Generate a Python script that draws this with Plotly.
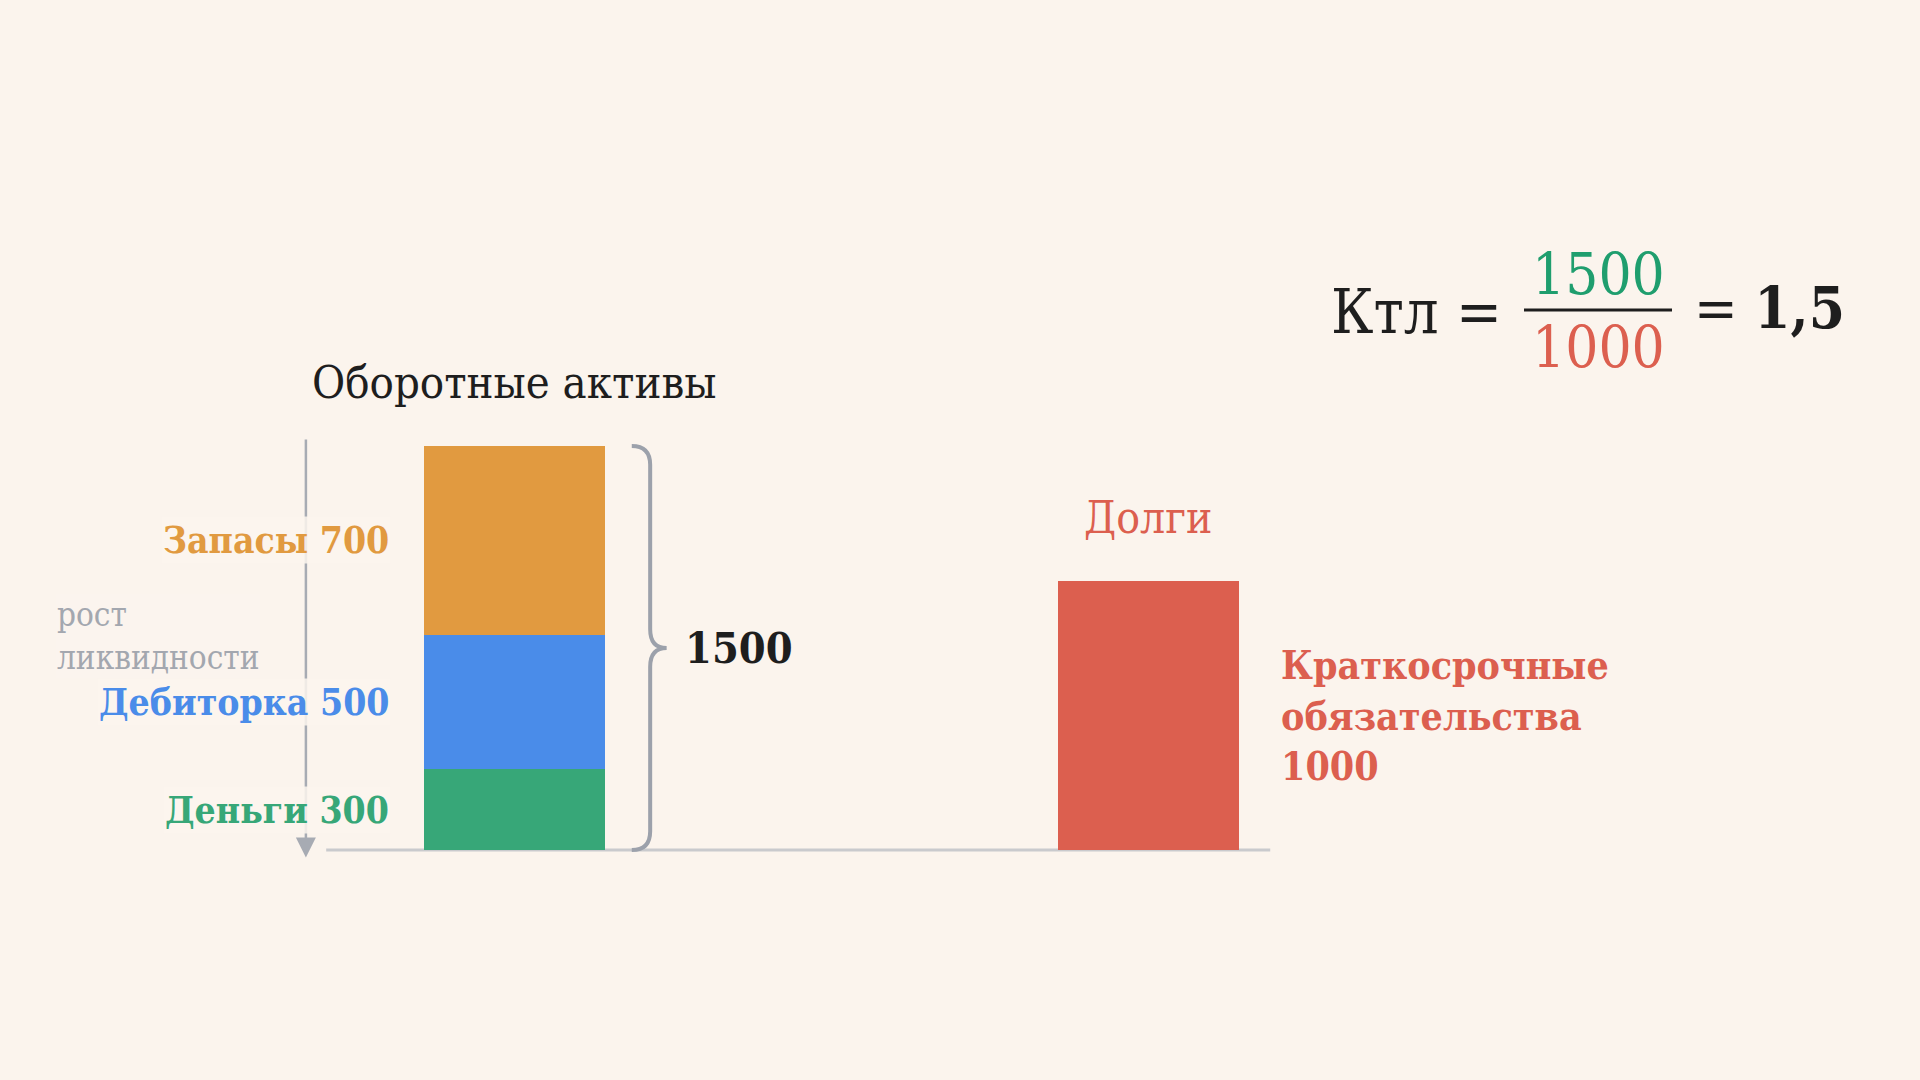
import plotly.graph_objects as go

# data
asset_names = ["Деньги", "Дебиторка", "Запасы"]
asset_values = [300, 500, 700]
asset_colors = ["#37A778", "#4A8CE9", "#E19A40"]
group_names = ["Оборотные активы", "Долги"]
debt_name = "Краткосрочные<br>обязательства"
debt_value = 1000
liquidity_note = "рост<br>ликвидности"

BG = "#FBF4ED"
GREY = "#9CA1AB"
DARK = "#1E1E1E"
RED = "#DC5F4F"
FONT = "DejaVu Serif Condensed, DejaVu Serif, serif"

total_assets = sum(asset_values)
ratio = total_assets / debt_value
bar_w = 0.287


def px(x, y):
    # pixel position -> paper coords (used only for the free-floating formula/note)
    return x / 1920, 1 - y / 1080


fig = go.Figure()

# stacked current assets
for name, val, col in zip(asset_names, asset_values, asset_colors):
    fig.add_trace(go.Bar(
        x=[0], y=[val], width=bar_w, marker_color=col,
        marker_line_width=0, name=name, hoverinfo="skip", showlegend=False
    ))

# short-term debt
fig.add_trace(go.Bar(
    x=[1], y=[debt_value], width=bar_w, marker_color=RED,
    marker_line_width=0, name="Долги", hoverinfo="skip", showlegend=False
))

# baseline
fig.add_shape(type="line", x0=-0.297, x1=1.192, y0=0, y1=0,
              line=dict(color="#C9CACD", width=3), layer="below")

# liquidity arrow (drawn before labels so their boxes cover it)
fig.add_annotation(x=-0.329, y=-28, ax=-0.329, ay=1530, axref="x", ayref="y",
                   text="", showarrow=True, arrowhead=2, arrowsize=1.6,
                   arrowwidth=2.5, arrowcolor="#A7ABB3")

nx, ny = px(55, 636)
fig.add_annotation(xref="paper", yref="paper", x=nx, y=ny,
                   text=liquidity_note, showarrow=False,
                   xanchor="left", yanchor="middle", align="left",
                   font=dict(family=FONT, size=33, color="#A3A7AF"),
                   bgcolor="rgba(251,244,237,0.8)")

# segment labels
base = 0
for name, val, col in zip(asset_names, asset_values, asset_colors):
    fig.add_annotation(x=-bar_w / 2, y=base + val / 2, xshift=-33,
                       text=f"<b>{name} {val}</b>", showarrow=False,
                       xanchor="right", yanchor="middle",
                       font=dict(family=FONT, size=37, color=col),
                       bgcolor="rgba(251,244,237,0.85)")
    base += val

# group titles
fig.add_annotation(x=0, y=total_assets, yshift=64, text=group_names[0], showarrow=False,
                   xanchor="center", yanchor="middle",
                   font=dict(family=FONT, size=45, color=DARK))
fig.add_annotation(x=1, y=debt_value, yshift=63, text=group_names[1], showarrow=False,
                   xanchor="center", yanchor="middle",
                   font=dict(family=FONT, size=44, color=RED))

# brace around assets
r = 70
bx0, bx1, bx2 = 0.185, 0.214, 0.240
mid = total_assets / 2
brace = (f"M {bx0},{total_assets} Q {bx1},{total_assets} {bx1},{total_assets - r} "
         f"L {bx1},{mid + r} Q {bx1},{mid} {bx2},{mid} "
         f"Q {bx1},{mid} {bx1},{mid - r} "
         f"L {bx1},{r} Q {bx1},0 {bx0},0")
fig.add_shape(type="path", path=brace, line=dict(color=GREY, width=4))
fig.add_annotation(x=bx2, y=mid, xshift=16, text=f"<b>{total_assets}</b>",
                   showarrow=False, xanchor="left", yanchor="middle",
                   font=dict(family=FONT, size=43, color=DARK))

# debt label
fig.add_annotation(x=1 + bar_w / 2, y=debt_value / 2, xshift=40,
                   text=f"<b>{debt_name}<br>{debt_value}</b>", showarrow=False,
                   xanchor="left", yanchor="middle", align="left",
                   font=dict(family=FONT, size=39, color=RED))

# formula
kx, ky = px(1504, 311)
fig.add_annotation(xref="paper", yref="paper", x=kx, y=ky,
                   text="Ктл =", showarrow=False, xanchor="right", yanchor="middle",
                   font=dict(family=FONT, size=61, color=DARK))
nx, ny = px(1598, 274)
fig.add_annotation(xref="paper", yref="paper", x=nx, y=ny,
                   text=f"{total_assets}", showarrow=False,
                   xanchor="center", yanchor="middle",
                   font=dict(family=FONT, size=58, color="#1F9E6E"))
dx, dy = px(1598, 347)
fig.add_annotation(xref="paper", yref="paper", x=dx, y=dy,
                   text=f"{debt_value}", showarrow=False,
                   xanchor="center", yanchor="middle",
                   font=dict(family=FONT, size=58, color=RED))
lx0, ly = px(1524, 310)
lx1, _ = px(1672, 310)
fig.add_shape(type="line", xref="paper", yref="paper", x0=lx0, x1=lx1,
              y0=ly, y1=ly, line=dict(color=DARK, width=3))
rx, ry = px(1692, 308)
fig.add_annotation(xref="paper", yref="paper", x=rx, y=ry,
                   text=f"= <b>{ratio:.1f}</b>".replace(".", ","), showarrow=False,
                   xanchor="left", yanchor="middle",
                   font=dict(family=FONT, size=58, color=DARK))

fig.update_layout(
    width=1920, height=1080, barmode="stack",
    paper_bgcolor=BG, plot_bgcolor=BG,
    margin=dict(l=0, r=0, t=0, b=0),
    xaxis=dict(range=[-0.8115, 2.2169], visible=False, fixedrange=True),
    yaxis=dict(range=[-854, 3156], visible=False, fixedrange=True),
    showlegend=False,
)

fig.write_html("out.html", config={"displayModeBar": False},
               post_script="document.body.style.margin='0';document.body.style.background='" + BG + "';")
